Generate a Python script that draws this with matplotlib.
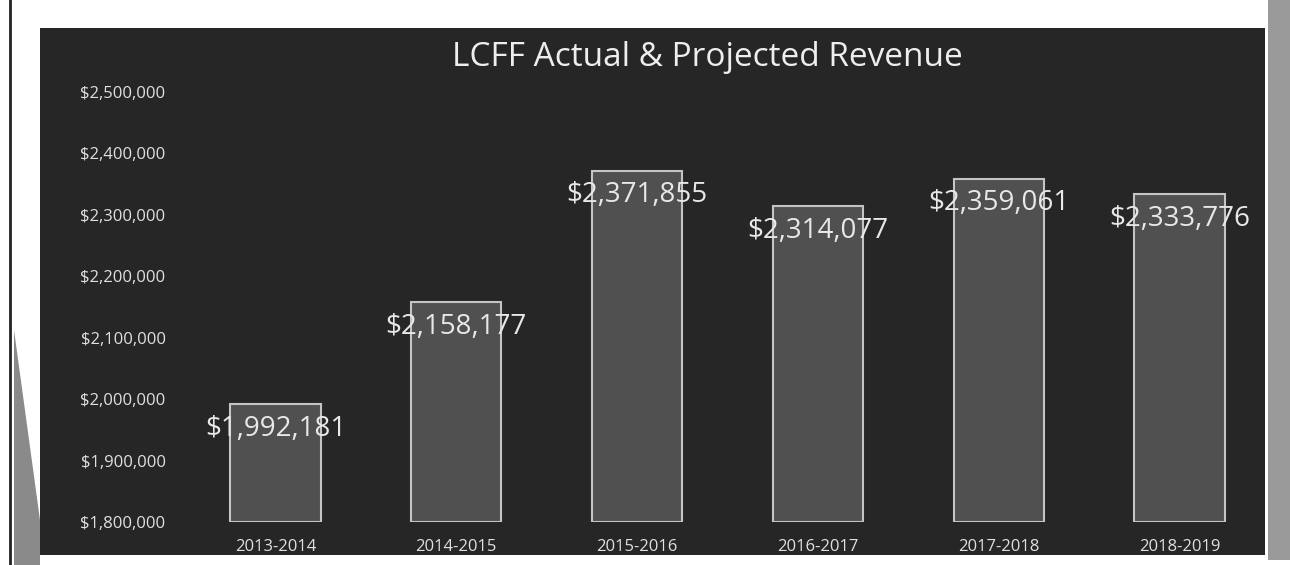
import matplotlib
matplotlib.use("Agg")
import matplotlib.pyplot as plt
from matplotlib.patches import Rectangle, Polygon
from matplotlib.ticker import FuncFormatter

categories = ["2013-2014", "2014-2015", "2015-2016", "2016-2017", "2017-2018", "2018-2019"]
revenue = [1992181, 2158177, 2371855, 2314077, 2359061, 2333776]
value_labels = ["$1,992,181", "$2,158,177", "$2,371,855", "$2,314,077", "$2,359,061", "$2,333,776"]
y_ticks = [1800000, 1900000, 2000000, 2100000, 2200000, 2300000, 2400000, 2500000]

W, H = 1290, 565
fig = plt.figure(figsize=(W / 100, H / 100), dpi=100, facecolor="white")

def fx(px):
    return px / W

def fy(py):
    return 1 - py / H

# page decorations (scan background)
fig.patches.append(Polygon([(fx(14), fy(330)), (fx(40), fy(520)), (fx(40), fy(565)), (fx(14), fy(565))],
                           closed=True, transform=fig.transFigure, facecolor="#8a8a8a", edgecolor="none", zorder=-2))
fig.patches.append(Rectangle((fx(1268), fy(560)), fx(22), fy(0) - fy(560),
                             transform=fig.transFigure, facecolor="#9a9a9a", edgecolor="none", zorder=-2))
fig.lines.append(plt.Line2D([fx(10), fx(10)], [fy(0), fy(565)], transform=fig.transFigure,
                            color="#222222", lw=2, zorder=-2))
# dark chart panel
fig.patches.append(Rectangle((fx(40), fy(555)), fx(1265) - fx(40), fy(28) - fy(555),
                             transform=fig.transFigure, facecolor="#262626", edgecolor="none", zorder=-1))

ax = fig.add_axes([fx(185), fy(522), fx(1270) - fx(185), fy(92) - fy(522)])
ax.set_facecolor("none")

x = list(range(len(categories)))
ax.bar(x, [v - y_ticks[0] for v in revenue], bottom=y_ticks[0], width=0.5,
       color="#505050", edgecolor="#c4c4c4", linewidth=1.5, zorder=2)

label_offset = -40000
for xi, v, lab in zip(x, revenue, value_labels):
    ax.text(xi, v + label_offset, lab, ha="center", va="center", color="#e8e8e8",
            fontsize=20, family="Open Sans", zorder=3)

ax.set_xlim(-0.5, len(categories) - 0.5)
ax.set_ylim(y_ticks[0], y_ticks[-1])
ax.set_yticks(y_ticks)
ax.yaxis.set_major_formatter(FuncFormatter(lambda v, p: "${:,.0f}".format(v)))
ax.set_xticks(x)
ax.set_xticklabels(categories)
ax.tick_params(axis="both", length=0, colors="#e0e0e0", labelsize=12)
ax.tick_params(axis="y", pad=14)
ax.tick_params(axis="x", pad=12)
for lab in ax.get_xticklabels() + ax.get_yticklabels():
    lab.set_family("Open Sans")
for s in ax.spines.values():
    s.set_visible(False)

fig.text(fx(707), fy(57), "LCFF Actual & Projected Revenue", ha="center", va="center",
         color="#eeeeee", fontsize=24, family="Open Sans")

fig.savefig("out.png", dpi=100, facecolor="white")
